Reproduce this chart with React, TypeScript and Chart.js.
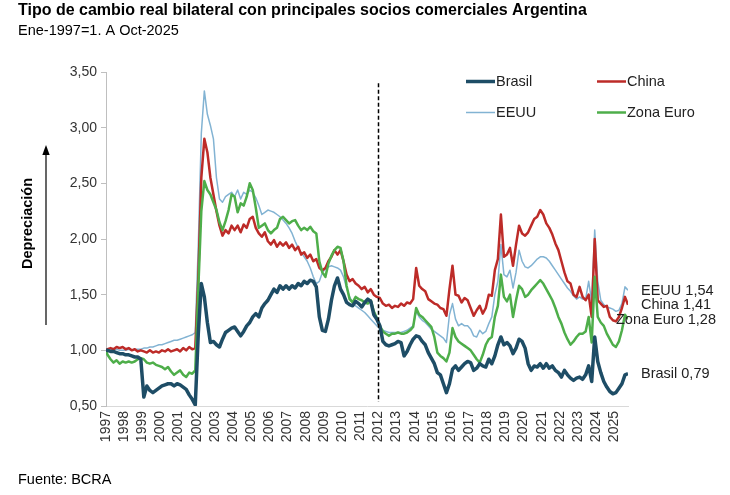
import React, { useEffect, useRef } from 'react';
import { Chart, registerables } from 'chart.js';

Chart.register(...registerables);

const FONT = '"Liberation Sans", Arial, sans-serif';

const titleText = 'Tipo de cambio real bilateral con principales socios comerciales Argentina';
const subtitleText = 'Ene-1997=1. A Oct-2025';
const sourceText = 'Fuente: BCRA';
const yAxisTitle = 'Depreciación';

const yearLabels = [
  '1997', '1998', '1999', '2000', '2001', '2002', '2003', '2004', '2005', '2006',
  '2007', '2008', '2009', '2010', '2011', '2012', '2013', '2014', '2015', '2016',
  '2017', '2018', '2019', '2020', '2021', '2022', '2023', '2024', '2025',
];
const yTickValues = [0.5, 1, 1.5, 2, 2.5, 3, 3.5];

// Samples: Jan-1997, then Feb, Apr, Jun, Aug, Oct, Dec of each year ... Oct-2025
const brasil = [
  1.00,
  1.00, 0.99, 0.99, 0.98, 0.97, 0.97, // 1997
  0.96, 0.96, 0.95, 0.94, 0.94, 0.92, // 1998
  0.58, 0.68, 0.64, 0.62, 0.64, 0.66, // 1999
  0.68, 0.69, 0.70, 0.70, 0.68, 0.70, // 2000
  0.69, 0.67, 0.65, 0.60, 0.56, 0.51, // 2001
  1.15, 1.60, 1.48, 1.25, 1.07, 1.08, // 2002
  1.05, 1.03, 1.10, 1.16, 1.18, 1.20, // 2003
  1.21, 1.17, 1.13, 1.17, 1.22, 1.25, // 2004
  1.30, 1.33, 1.30, 1.38, 1.42, 1.45, // 2005
  1.50, 1.55, 1.52, 1.58, 1.55, 1.58, // 2006
  1.55, 1.58, 1.56, 1.60, 1.58, 1.62, // 2007
  1.60, 1.63, 1.62, 1.57, 1.30, 1.18, // 2008
  1.17, 1.28, 1.45, 1.58, 1.65, 1.55, // 2009
  1.50, 1.43, 1.41, 1.40, 1.44, 1.42, // 2010
  1.39, 1.43, 1.46, 1.44, 1.32, 1.28, // 2011
  1.22, 1.08, 1.05, 1.04, 1.05, 1.06, // 2012
  1.08, 1.07, 0.95, 0.99, 1.05, 1.10, // 2013
  1.13, 1.12, 1.08, 1.05, 0.98, 0.93, // 2014
  0.88, 0.80, 0.78, 0.70, 0.62, 0.70, // 2015
  0.83, 0.86, 0.82, 0.85, 0.88, 0.90, // 2016
  0.89, 0.82, 0.84, 0.88, 0.86, 0.85, // 2017
  0.92, 0.88, 0.95, 1.05, 1.12, 1.05, // 2018
  1.07, 1.04, 0.97, 1.02, 1.10, 1.08, // 2019
  1.02, 0.88, 0.82, 0.86, 0.85, 0.88, // 2020
  0.84, 0.88, 0.84, 0.86, 0.82, 0.80, // 2021
  0.76, 0.82, 0.78, 0.75, 0.73, 0.75, // 2022
  0.76, 0.74, 0.78, 0.86, 0.72, 1.12, // 2023
  0.90, 0.80, 0.72, 0.67, 0.63, 0.61, // 2024
  0.62, 0.66, 0.70, 0.78, 0.79,       // 2025
];

const china = [
  1.00,
  1.01, 1.02, 1.01, 1.03, 1.02, 1.03, // 1997
  1.01, 1.02, 1.00, 1.01, 0.99, 1.00, // 1998
  0.99, 0.98, 1.00, 0.98, 0.99, 0.98, // 1999
  1.00, 0.99, 1.01, 0.99, 1.00, 1.01, // 2000
  0.99, 1.02, 1.00, 1.03, 1.01, 1.02, // 2001
  1.65, 2.55, 2.90, 2.78, 2.55, 2.40, // 2002
  2.25, 2.12, 2.03, 2.08, 2.05, 2.12, // 2003
  2.08, 2.12, 2.06, 2.13, 2.10, 2.18, // 2004
  2.20, 2.10, 2.05, 2.02, 2.06, 1.98, // 2005
  1.95, 1.99, 1.93, 1.97, 1.94, 1.97, // 2006
  1.92, 1.95, 1.90, 1.93, 1.86, 1.88, // 2007
  1.83, 1.86, 1.80, 1.82, 1.74, 1.72, // 2008
  1.74, 1.80, 1.84, 1.90, 1.86, 1.90, // 2009
  1.80, 1.68, 1.62, 1.64, 1.60, 1.58, // 2010
  1.55, 1.57, 1.52, 1.55, 1.50, 1.48, // 2011
  1.47, 1.42, 1.40, 1.41, 1.38, 1.40, // 2012
  1.39, 1.42, 1.40, 1.43, 1.42, 1.46, // 2013
  1.74, 1.58, 1.55, 1.53, 1.46, 1.44, // 2014
  1.42, 1.41, 1.38, 1.37, 1.31, 1.55, // 2015
  1.76, 1.50, 1.49, 1.43, 1.47, 1.45, // 2016
  1.38, 1.31, 1.36, 1.40, 1.33, 1.38, // 2017
  1.50, 1.49, 1.72, 1.82, 2.22, 1.84, // 2018
  1.86, 1.92, 1.76, 1.95, 2.12, 2.05, // 2019
  2.03, 2.06, 2.12, 2.18, 2.20, 2.26, // 2020
  2.22, 2.14, 2.10, 2.04, 1.96, 1.90, // 2021
  1.80, 1.70, 1.62, 1.60, 1.50, 1.48, // 2022
  1.57, 1.48, 1.45, 1.50, 1.30, 2.00, // 2023
  1.45, 1.42, 1.39, 1.40, 1.30, 1.27, // 2024
  1.26, 1.30, 1.38, 1.48, 1.41,       // 2025
];

const eeuu = [
  1.00,
  1.00, 1.00, 1.01, 1.01, 1.00, 1.00, // 1997
  1.00, 1.01, 1.00, 1.01, 1.01, 1.01, // 1998
  1.02, 1.02, 1.03, 1.03, 1.04, 1.05, // 1999
  1.05, 1.06, 1.07, 1.08, 1.09, 1.09, // 2000
  1.10, 1.11, 1.12, 1.13, 1.14, 1.16, // 2001
  1.95, 2.95, 3.33, 3.12, 3.02, 2.90, // 2002
  2.55, 2.36, 2.33, 2.38, 2.40, 2.42, // 2003
  2.38, 2.44, 2.36, 2.42, 2.40, 2.44, // 2004
  2.42, 2.37, 2.30, 2.22, 2.24, 2.26, // 2005
  2.25, 2.24, 2.22, 2.20, 2.17, 2.14, // 2006
  2.10, 2.05, 1.98, 1.92, 1.88, 1.84, // 2007
  1.80, 1.74, 1.66, 1.60, 1.62, 1.70, // 2008
  1.73, 1.75, 1.76, 1.75, 1.74, 1.72, // 2009
  1.66, 1.56, 1.48, 1.43, 1.40, 1.38, // 2010
  1.36, 1.34, 1.31, 1.28, 1.25, 1.22, // 2011
  1.20, 1.18, 1.17, 1.16, 1.16, 1.16, // 2012
  1.16, 1.16, 1.17, 1.18, 1.20, 1.22, // 2013
  1.35, 1.30, 1.27, 1.25, 1.22, 1.19, // 2014
  1.17, 1.15, 1.13, 1.11, 1.07, 1.32, // 2015
  1.42, 1.28, 1.22, 1.24, 1.22, 1.22, // 2016
  1.19, 1.13, 1.12, 1.18, 1.15, 1.17, // 2017
  1.24, 1.30, 1.50, 1.62, 1.95, 1.68, // 2018
  1.66, 1.72, 1.56, 1.70, 1.90, 1.80, // 2019
  1.75, 1.74, 1.76, 1.79, 1.82, 1.84, // 2020
  1.84, 1.83, 1.80, 1.76, 1.72, 1.68, // 2021
  1.64, 1.60, 1.56, 1.53, 1.49, 1.46, // 2022
  1.48, 1.46, 1.46, 1.62, 1.44, 2.08, // 2023
  1.62, 1.45, 1.41, 1.39, 1.38, 1.37, // 2024
  1.35, 1.36, 1.42, 1.57, 1.54,       // 2025
];

const zonaEuro = [
  1.00,
  0.96, 0.92, 0.89, 0.91, 0.88, 0.90, // 1997
  0.89, 0.90, 0.89, 0.90, 0.92, 0.93, // 1998
  0.92, 0.89, 0.88, 0.89, 0.87, 0.86, // 1999
  0.85, 0.83, 0.85, 0.81, 0.78, 0.80, // 2000
  0.82, 0.78, 0.76, 0.80, 0.79, 0.82, // 2001
  1.55, 2.25, 2.52, 2.44, 2.40, 2.33, // 2002
  2.26, 2.15, 2.08, 2.16, 2.26, 2.40, // 2003
  2.38, 2.24, 2.32, 2.30, 2.38, 2.50, // 2004
  2.44, 2.28, 2.10, 2.12, 2.14, 2.08, // 2005
  2.05, 2.08, 2.10, 2.18, 2.20, 2.17, // 2006
  2.14, 2.16, 2.17, 2.12, 2.08, 2.10, // 2007
  2.08, 2.11, 2.07, 2.05, 1.80, 1.70, // 2008
  1.66, 1.78, 1.85, 1.90, 1.93, 1.92, // 2009
  1.80, 1.58, 1.46, 1.43, 1.48, 1.46, // 2010
  1.45, 1.43, 1.42, 1.45, 1.35, 1.29, // 2011
  1.22, 1.17, 1.15, 1.13, 1.15, 1.15, // 2012
  1.16, 1.15, 1.15, 1.16, 1.18, 1.21, // 2013
  1.38, 1.32, 1.30, 1.27, 1.24, 1.21, // 2014
  1.12, 0.98, 0.95, 0.93, 0.90, 0.98, // 2015
  1.20, 1.12, 1.08, 1.06, 1.04, 1.02, // 2016
  1.00, 0.96, 0.92, 0.89, 0.96, 1.05, // 2017
  1.10, 1.12, 1.30, 1.40, 1.68, 1.48, // 2018
  1.44, 1.50, 1.30, 1.45, 1.58, 1.55, // 2019
  1.48, 1.50, 1.54, 1.57, 1.60, 1.63, // 2020
  1.60, 1.55, 1.50, 1.45, 1.38, 1.30, // 2021
  1.24, 1.16, 1.10, 1.05, 1.08, 1.12, // 2022
  1.15, 1.15, 1.17, 1.30, 1.07, 1.66, // 2023
  1.30, 1.25, 1.22, 1.15, 1.10, 1.05, // 2024
  1.03, 1.08, 1.18, 1.32, 1.28,       // 2025
];

// month index (0 = Jan-1997) of each sample
const sampleMonths: number[] = [0];
for (let m = 1; m <= 345; m += 2) sampleMonths.push(m);

const dashedLineMonth = 180; // Jan-2012

const toPoints = (vals: number[]) =>
  vals.map((v, i) => ({ x: sampleMonths[i], y: v })).filter((p) => p.x !== undefined);

const fmt = (v: number) => v.toFixed(2).replace('.', ',');

const SERIES = [
  { name: 'Brasil', values: brasil, color: '#1e4d66', width: 3.5 },
  { name: 'Zona Euro', values: zonaEuro, color: '#4eae4a', width: 2.5 },
  { name: 'China', values: china, color: '#bd2b28', width: 2.5 },
  { name: 'EEUU', values: eeuu, color: '#82b3d3', width: 1.5 },
];

const decorPlugin = {
  id: 'decor',
  afterDraw(chart: any) {
    const ctx = chart.ctx as CanvasRenderingContext2D;
    const { right } = chart.chartArea;
    const xs = chart.scales.x;
    const ys = chart.scales.y;
    ctx.save();

    // dashed vertical line
    const dx = Math.round(xs.getPixelForValue(dashedLineMonth)) + 0.5;
    ctx.strokeStyle = '#000';
    ctx.lineWidth = 1.5;
    ctx.setLineDash([4, 2.5]);
    ctx.beginPath();
    ctx.moveTo(dx, ys.getPixelForValue(3.4));
    ctx.lineTo(dx, ys.getPixelForValue(0.535));
    ctx.stroke();
    ctx.setLineDash([]);

    // titles
    ctx.fillStyle = '#000';
    ctx.textAlign = 'left';
    ctx.textBaseline = 'alphabetic';
    ctx.font = `bold 16px ${FONT}`;
    ctx.fillText(titleText, 18, 15);
    ctx.font = `14.5px ${FONT}`;
    ctx.fillText(subtitleText, 18, 35);
    ctx.fillText(sourceText, 18, 484);

    // y axis title
    ctx.save();
    ctx.translate(28, 223.5);
    ctx.rotate(-Math.PI / 2);
    ctx.font = `bold 14.5px ${FONT}`;
    ctx.textAlign = 'center';
    ctx.textBaseline = 'middle';
    ctx.fillText(yAxisTitle, 0, 0);
    ctx.restore();

    // arrow
    ctx.strokeStyle = '#000';
    ctx.lineWidth = 1.2;
    ctx.beginPath();
    ctx.moveTo(46, 325);
    ctx.lineTo(46, 152);
    ctx.stroke();
    ctx.beginPath();
    ctx.moveTo(46, 145);
    ctx.lineTo(42.3, 155);
    ctx.lineTo(49.7, 155);
    ctx.closePath();
    ctx.fill();

    // legend
    const legendPos: Record<string, [number, number]> = {
      Brasil: [466, 81.5],
      China: [597, 81.5],
      EEUU: [466, 112.5],
      'Zona Euro': [597, 112.5],
    };
    ctx.font = `14.5px ${FONT}`;
    ctx.textBaseline = 'middle';
    ctx.textAlign = 'left';
    SERIES.forEach((s) => {
      const [lx, ly] = legendPos[s.name];
      ctx.strokeStyle = s.color;
      ctx.lineWidth = s.width;
      ctx.beginPath();
      ctx.moveTo(lx, ly);
      ctx.lineTo(lx + 29, ly);
      ctx.stroke();
      ctx.fillStyle = '#222';
      ctx.fillText(s.name, lx + 30, ly + 0.5);
    });

    // end labels
    const endOffset: Record<string, number> = { Brasil: 13, China: 13, EEUU: 13, 'Zona Euro': -12 };
    SERIES.forEach((s) => {
      const last = s.values[s.values.length - 1];
      const ly = ys.getPixelForValue(last);
      ctx.fillStyle = '#222';
      ctx.fillText(`${s.name} ${fmt(last)}`, right + endOffset[s.name], ly + 0.5);
    });

    ctx.restore();
  },
};

export default function App() {
  const canvasRef = useRef<HTMLCanvasElement | null>(null);

  useEffect(() => {
    if (!canvasRef.current) return;
    Chart.defaults.font.family = FONT;
    const chart = new Chart(canvasRef.current, {
      type: 'line',
      data: {
        datasets: SERIES.map((s) => ({
          label: s.name,
          data: toPoints(s.values),
          borderColor: s.color,
          backgroundColor: s.color,
          borderWidth: s.width,
          pointRadius: 0,
          tension: 0,
          fill: false,
          borderJoinStyle: 'round' as const,
        })),
      },
      options: {
        responsive: false,
        animation: false,
        parsing: true,
        layout: { padding: { left: 0, right: 102, top: 72, bottom: 0 } },
        plugins: { legend: { display: false }, tooltip: { enabled: false } },
        scales: {
          x: {
            type: 'linear',
            min: 0,
            max: 345,
            afterBuildTicks: (s: any) => {
              s.ticks = yearLabels.map((_, i) => ({ value: i * 12 }));
            },
            afterFit: (s: any) => {
              s.height = 89;
            },
            ticks: {
              autoSkip: false,
              minRotation: 90,
              maxRotation: 90,
              padding: 5,
              color: '#333',
              font: { size: 14 },
              callback: (_v: any, i: number) => yearLabels[i],
            },
            grid: { display: false, drawTicks: false },
            border: { display: true, color: '#d9d9d9', width: 1 },
          },
          y: {
            min: 0.5,
            max: 3.5,
            afterBuildTicks: (s: any) => {
              s.ticks = yTickValues.map((v) => ({ value: v }));
            },
            afterFit: (s: any) => {
              s.width = 106;
            },
            ticks: {
              padding: 4,
              color: '#333',
              font: { size: 14 },
              callback: (v: any) => fmt(Number(v)),
            },
            grid: { display: true, drawOnChartArea: false, drawTicks: true, tickLength: 5, color: '#bfbfbf' },
            border: { display: true, color: '#bfbfbf', width: 1 },
          },
        },
      },
      plugins: [decorPlugin],
    });
    return () => chart.destroy();
  }, []);

  return (
    <div style={{ position: 'fixed', left: 0, top: 0, width: 730, height: 495, background: '#fff' }}>
      <canvas ref={canvasRef} width={730} height={495} style={{ display: 'block' }} />
    </div>
  );
}
